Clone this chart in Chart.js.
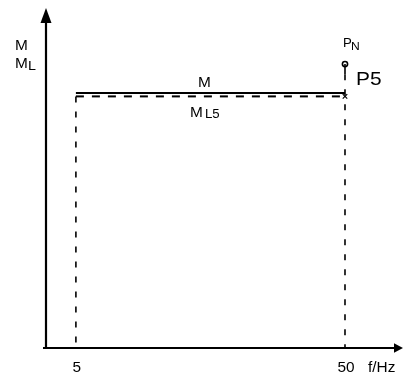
<!DOCTYPE html>
<html>
<head>
<meta charset="utf-8">
<style>
  html, body { margin: 0; padding: 0; background: #fff; }
  #wrap { width: 404px; height: 379px; position: relative; }
</style>
<script src="https://cdn.jsdelivr.net/npm/chart.js@4/dist/chart.umd.min.js"></script>
</head>
<body>
<div id="wrap"><canvas id="c" width="404" height="379"></canvas></div>
<script>
// Frequency points on the f axis (Hz) and their tick labels
const freqs = [5, 50];
const tickLabels = ['5', '50'];
// Torque levels (arbitrary units) along the 5..50 Hz band
const torqueM = [75, 75];
const torqueML5 = [74, 74];
// Rated point P_N at 50 Hz and the start of its solid stem
const ratedLevel = [83.5];
const stemLevel = [80.5];
// Axis extents
const xRange = [0, 59.7];
const yRange = [0, 100];

const FONT = '"Liberation Sans", Arial, sans-serif';
const STRETCH = 1.1;

const datasets = [
  { // M
    data: freqs.map((f, i) => ({ x: f, y: torqueM[i] })),
    borderColor: '#000', borderWidth: 2, pointRadius: 0, showLine: true
  },
  { // M_L5
    data: freqs.map((f, i) => ({ x: f, y: torqueML5[i] })),
    borderColor: '#000', borderWidth: 2, borderDash: [8, 8], pointRadius: 0, showLine: true
  },
  { // drop line at 5 Hz
    data: [{ x: freqs[0], y: torqueML5[0] }, { x: freqs[0], y: yRange[0] }],
    borderColor: '#000', borderWidth: 1.6, borderDash: [6, 9], pointRadius: 0, showLine: true
  },
  { // drop line at 50 Hz
    data: [{ x: freqs[1], y: stemLevel[0] }, { x: freqs[1], y: yRange[0] }],
    borderColor: '#000', borderWidth: 1.6, borderDash: [6, 9], pointRadius: 0, showLine: true
  },
  { // stem under P_N
    data: [{ x: freqs[1], y: ratedLevel[0] }, { x: freqs[1], y: stemLevel[0] }],
    borderColor: '#000', borderWidth: 1.6, pointRadius: 0, showLine: true
  },
  { // P_N marker
    data: [{ x: freqs[1], y: ratedLevel[0] }],
    pointStyle: 'circle', pointRadius: 2.6, pointBorderWidth: 1.6,
    pointBorderColor: '#000', pointBackgroundColor: '#fff', showLine: false
  },
  { // P5 marker
    data: [{ x: freqs[1], y: torqueML5[1] }],
    pointStyle: 'crossRot', pointRadius: 3.2, pointBorderWidth: 1.2,
    pointBorderColor: '#000', showLine: false
  }
];

function text(ctx, s, x, y, size, align) {
  ctx.save();
  ctx.font = size + 'px ' + FONT;
  ctx.textAlign = align || 'left';
  ctx.textBaseline = 'alphabetic';
  ctx.translate(x, y);
  ctx.scale(STRETCH, 1);
  ctx.fillText(s, 0, 0);
  ctx.restore();
}

const axesPlugin = {
  id: 'arrowAxes',
  afterDatasetsDraw(chart) {
    const ctx = chart.ctx;
    const xs = chart.scales.x, ys = chart.scales.y;
    const x0 = xs.getPixelForValue(xRange[0]);
    const y0 = ys.getPixelForValue(yRange[0]);
    const top = chart.chartArea.top, right = chart.chartArea.right;
    ctx.save();
    ctx.fillStyle = '#000';
    ctx.strokeStyle = '#000';
    ctx.lineWidth = 2.2;
    ctx.setLineDash([]);
    // axis lines
    ctx.beginPath();
    ctx.moveTo(x0, top + 10);
    ctx.lineTo(x0, y0);
    ctx.moveTo(x0 - 3, y0);
    ctx.lineTo(right - 6, y0);
    ctx.stroke();
    // arrow heads
    ctx.beginPath();
    ctx.moveTo(x0, top);
    ctx.lineTo(x0 - 5.5, top + 15);
    ctx.lineTo(x0 + 5.5, top + 15);
    ctx.closePath();
    ctx.fill();
    ctx.beginPath();
    ctx.moveTo(right, y0);
    ctx.lineTo(right - 9, y0 - 4.8);
    ctx.lineTo(right - 9, y0 + 4.8);
    ctx.closePath();
    ctx.fill();

    // tick labels on f axis
    freqs.forEach((f, i) => {
      text(ctx, tickLabels[i], xs.getPixelForValue(f) + 1, y0 + 24, 14, 'center');
    });
    text(ctx, 'f/Hz', right - 35, y0 + 24, 14);

    // y axis labels
    text(ctx, 'M', x0 - 31, top + 42, 14);
    text(ctx, 'M', x0 - 31, top + 60, 14);
    text(ctx, 'L', x0 - 18, top + 62, 13);

    // line labels
    const xm = (xs.getPixelForValue(freqs[0]) + xs.getPixelForValue(freqs[1])) / 2;
    const yM = ys.getPixelForValue(torqueM[0]);
    const yL = ys.getPixelForValue(torqueML5[0]);
    text(ctx, 'M', xm - 6, yM - 6, 14, 'center');
    text(ctx, 'M', xm - 14, yL + 21, 14, 'center');
    text(ctx, 'L5', xm - 5.5, yL + 22, 12);

    // point labels
    const xp = xs.getPixelForValue(freqs[1]);
    const yp = ys.getPixelForValue(ratedLevel[0]);
    text(ctx, 'P', xp - 2, yp - 17, 12);
    text(ctx, 'N', xp + 6, yp - 14, 11);
    text(ctx, 'P5', xp + 11, yL - 11, 19);
    ctx.restore();
  }
};

new Chart(document.getElementById('c'), {
  type: 'scatter',
  data: { datasets },
  options: {
    responsive: false,
    animation: false,
    layout: { autoPadding: false, padding: { left: 46, right: 1, top: 8, bottom: 31 } },
    plugins: { legend: { display: false }, tooltip: { enabled: false } },
    scales: {
      x: { type: 'linear', display: false, min: xRange[0], max: xRange[1] },
      y: { type: 'linear', display: false, min: yRange[0], max: yRange[1] }
    }
  },
  plugins: [axesPlugin]
});
</script>
</body>
</html>
